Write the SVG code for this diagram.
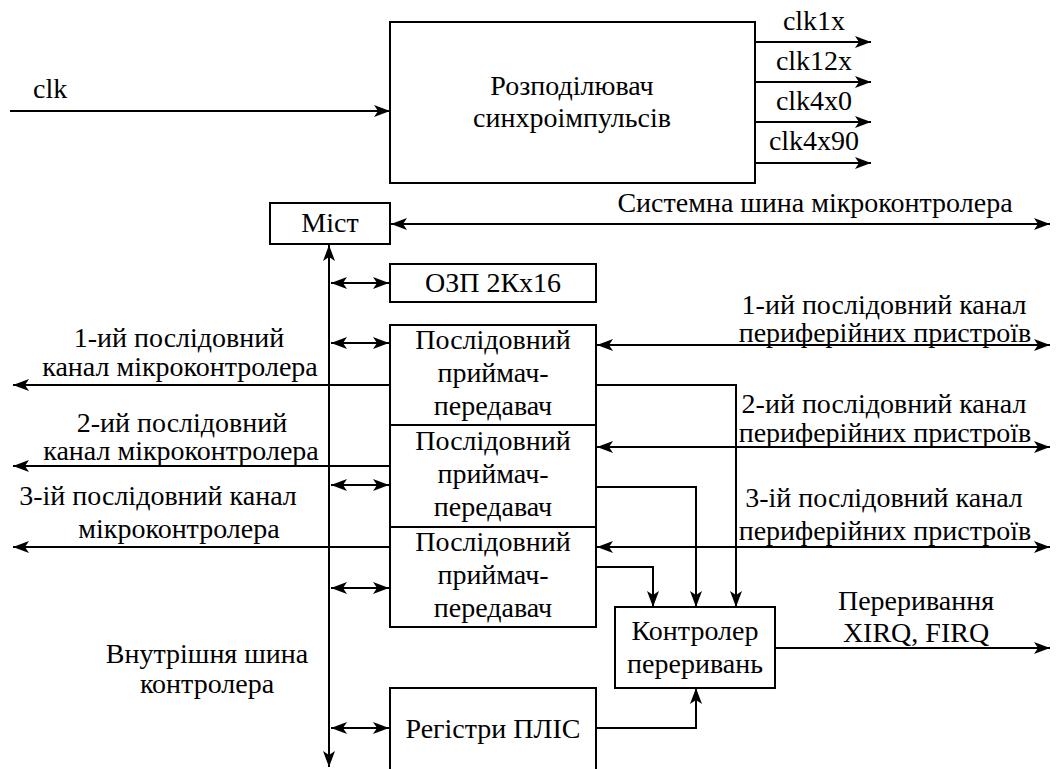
<svg xmlns="http://www.w3.org/2000/svg" width="1056" height="769" viewBox="0 0 1056 769" font-family="'Liberation Serif', 'Times New Roman', serif" font-size="28">
<defs>
<marker id="ah" markerUnits="userSpaceOnUse" viewBox="0 0 16 12" markerWidth="16" markerHeight="12" refX="16" refY="6" orient="auto-start-reverse">
<path d="M0,0 L16,6 L0,12 L4,6 z" fill="#000"/>
</marker>
<style>
.b{fill:#fff;stroke:#000;stroke-width:2}
.l{fill:none;stroke:#000;stroke-width:2}
.a{marker-end:url(#ah)}
.d{marker-start:url(#ah);marker-end:url(#ah)}
text{font-family:'Liberation Serif','Times New Roman',serif;font-size:28px;fill:#000}
.c{text-anchor:middle}
</style>
</defs>
<rect width="1056" height="769" fill="#fff"/>
<g id="connectors">
<line class="l a" x1="10" y1="111" x2="390" y2="111"/>
<line class="l a" x1="755" y1="42" x2="871" y2="42"/>
<line class="l a" x1="755" y1="82" x2="871" y2="82"/>
<line class="l a" x1="755" y1="122" x2="871" y2="122"/>
<line class="l a" x1="755" y1="163" x2="871" y2="163"/>
<line class="l d" x1="391" y1="224" x2="1050" y2="224"/>
<line class="l d" x1="329" y1="245" x2="329" y2="767"/>
<line class="l d" x1="331" y1="283" x2="389" y2="283"/>
<line class="l d" x1="331" y1="343" x2="389" y2="343"/>
<line class="l d" x1="331" y1="485" x2="389" y2="485"/>
<line class="l d" x1="331" y1="588" x2="389" y2="588"/>
<line class="l d" x1="331" y1="728" x2="389" y2="728"/>
<line class="l a" x1="390" y1="385" x2="13" y2="385"/>
<line class="l a" x1="390" y1="466" x2="13" y2="466"/>
<line class="l a" x1="390" y1="547" x2="13" y2="547"/>
<line class="l d" x1="597" y1="345" x2="1050" y2="345"/>
<line class="l d" x1="597" y1="447" x2="1050" y2="447"/>
<line class="l d" x1="597" y1="547" x2="1050" y2="547"/>
<polyline class="l a" points="596,385 736,385 736,607"/>
<polyline class="l a" points="596,487 696,487 696,607"/>
<polyline class="l a" points="596,567 653,567 653,607"/>
<polyline class="l a" points="596,728 696,728 696,688"/>
<line class="l a" x1="775" y1="648" x2="1050" y2="648"/>
</g>
<g id="labels">
<text x="33" y="98">clk</text>
<text class="c" x="814" y="30">clk1x</text>
<text class="c" x="814" y="70">clk12x</text>
<text class="c" x="814" y="110">clk4x0</text>
<text class="c" x="814" y="150">clk4x90</text>
<text class="c" x="815" y="212">Системна шина мікроконтролера</text>
<text class="c" x="179" y="347">1-ий послідовний</text>
<text class="c" x="180" y="376">канал мікроконтролера</text>
<text class="c" x="182" y="432">2-ий послідовний</text>
<text class="c" x="181" y="460">канал мікроконтролера</text>
<text class="c" x="158" y="505">3-ій послідовний канал</text>
<text class="c" x="179" y="538">мікроконтролера</text>
<text class="c" x="884" y="314">1-ий послідовний канал</text>
<text class="c" x="885" y="342">периферійних пристроїв</text>
<text class="c" x="884" y="413">2-ий послідовний канал</text>
<text class="c" x="885" y="442">периферійних пристроїв</text>
<text class="c" x="884" y="507">3-ій послідовний канал</text>
<text class="c" x="885" y="540">периферійних пристроїв</text>
<text class="c" x="207" y="663">Внутрішня шина</text>
<text class="c" x="207" y="693">контролера</text>
<text class="c" x="916" y="610">Переривання</text>
<text class="c" x="916" y="642">XIRQ, FIRQ</text>
</g>
<g id="rozpodiliuvach">
<rect class="b" x="390" y="22" width="365" height="161"/>
<text class="c" x="572" y="95">Розподілювач</text>
<text class="c" x="572" y="127">синхроімпульсів</text>
</g>
<g id="mist">
<rect class="b" x="270" y="203" width="120" height="41"/>
<text class="c" x="330" y="232">Міст</text>
</g>
<g id="ozp">
<rect class="b" x="390" y="264" width="206" height="38"/>
<text class="c" x="493" y="292">ОЗП 2Кх16</text>
</g>
<g id="sci1">
<rect class="b" x="390" y="325" width="206" height="100"/>
<text class="c" x="493" y="349">Послідовний</text>
<text class="c" x="493" y="382">приймач-</text>
<text class="c" x="493" y="415">передавач</text>
</g>
<g id="sci2">
<rect class="b" x="390" y="425" width="206" height="102"/>
<text class="c" x="493" y="450">Послідовний</text>
<text class="c" x="493" y="483">приймач-</text>
<text class="c" x="493" y="516">передавач</text>
</g>
<g id="sci3">
<rect class="b" x="390" y="527" width="206" height="100"/>
<text class="c" x="493" y="551">Послідовний</text>
<text class="c" x="493" y="584">приймач-</text>
<text class="c" x="493" y="617">передавач</text>
</g>
<g id="registry">
<rect class="b" x="390" y="688" width="206" height="100"/>
<text class="c" x="493" y="738">Регістри ПЛІС</text>
</g>
<g id="interrupt-controller">
<rect class="b" x="615" y="607" width="160" height="81"/>
<text class="c" x="695" y="640">Контролер</text>
<text class="c" x="695" y="673">переривань</text>
</g>
</svg>
